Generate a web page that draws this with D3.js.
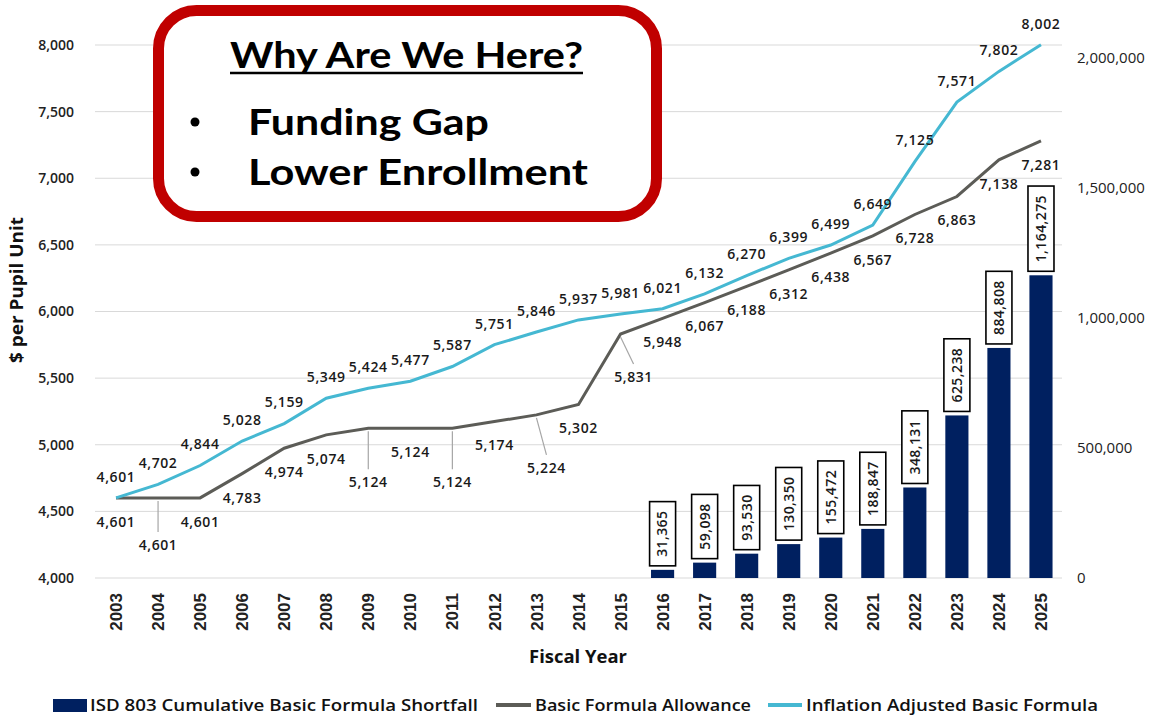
<!DOCTYPE html>
<html>
<head>
<meta charset="utf-8">
<script src="https://cdn.jsdelivr.net/npm/d3@7/dist/d3.min.js"></script>
<style>
body{margin:0;background:#fff;}
svg{display:block;}
.grid line{stroke:#d9d9d9;stroke-width:1;}
.lbl{font-family:"Open Sans",sans-serif;font-weight:600;font-size:14px;fill:#1a1a1a;letter-spacing:0.6px;}
.tick-l{font-family:"Open Sans",sans-serif;font-weight:600;font-size:14px;fill:#222;}
.tick-r{font-family:"Open Sans",sans-serif;font-weight:400;font-size:15px;fill:#222;}
.xlab{font-family:"Liberation Sans",Arial,sans-serif;font-weight:700;font-size:17px;fill:#222;}
.ttl{font-family:"Open Sans",sans-serif;font-weight:700;font-size:17px;fill:#111;}
.leg{font-family:"Open Sans",sans-serif;font-weight:600;font-size:16px;fill:#111;}
.box{font-family:Lato,"Open Sans",sans-serif;font-weight:700;fill:#000;}
</style>
</head>
<body>
<svg id="chart" width="1151" height="721"></svg>
<script>
// fiscal years
var years = [2003,2004,2005,2006,2007,2008,2009,2010,2011,2012,2013,2014,2015,2016,2017,2018,2019,2020,2021,2022,2023,2024,2025];

// Basic Formula Allowance ($ per pupil unit)
var allowance = [4601,4601,4601,4783,4974,5074,5124,5124,5124,5174,5224,5302,5831,5948,6067,6188,6312,6438,6567,6728,6863,7138,7281];

// Inflation Adjusted Basic Formula
var inflation = [4601,4702,4844,5028,5159,5349,5424,5477,5587,5751,5846,5937,5981,6021,6132,6270,6399,6499,6649,7125,7571,7802,8002];

// ISD 803 cumulative shortfall (only from 2016)
var shortfallYears = [2016,2017,2018,2019,2020,2021,2022,2023,2024,2025];
var shortfall = [31365,59098,93530,130350,155472,188847,348131,625238,884808,1164275];

var leftTicks = [4000,4500,5000,5500,6000,6500,7000,7500,8000];
var rightTicks = [0,500000,1000000,1500000,2000000];

// gray labels that sit further down with a leader line  [dx, dy]
var grayNudge = {2004:[0,47], 2009:[0,54], 2011:[0,54], 2013:[10,53], 2015:[13,43]};

var navy = "#002060", gray = "#5c5c57", cyan = "#45b8d2";

var svg = d3.select("#chart");
var fmt = d3.format(",");

var x = d3.scaleBand().domain(years).range([95,1062]).paddingInner(0.45).paddingOuter(0.225);
var cx = function(d){ return x(d) + x.bandwidth()/2; };
var yL = d3.scaleLinear().domain([4000,8000]).range([578,45]);
var yR = d3.scaleLinear().domain([0,2050000]).range([578,45]);

// grid
svg.append("g").attr("class","grid")
  .selectAll("line").data(leftTicks).enter().append("line")
  .attr("x1",95).attr("x2",1062)
  .attr("y1",function(d){return yL(d);}).attr("y2",function(d){return yL(d);});

// left axis labels
svg.append("g").selectAll("text").data(leftTicks).enter().append("text")
  .attr("class","tick-l").attr("x",74).attr("y",function(d){return yL(d);})
  .attr("dy","0.35em").attr("text-anchor","end").text(fmt);

// right axis labels
svg.append("g").selectAll("text").data(rightTicks).enter().append("text")
  .attr("class","tick-r").attr("x",1077).attr("y",function(d){return yR(d);})
  .attr("dy","0.35em").attr("text-anchor","start").text(fmt);

// bars
var barData = shortfallYears.map(function(y,i){ return {year:y, v:shortfall[i]}; });
svg.append("g").selectAll("rect").data(barData).enter().append("rect")
  .attr("x",function(d){return x(d.year);})
  .attr("width",x.bandwidth())
  .attr("y",function(d){return yR(d.v);})
  .attr("height",function(d){return yR(0)-yR(d.v);})
  .attr("fill",navy);

// bar labels in boxes
var bl = svg.append("g").selectAll("g").data(barData).enter().append("g")
  .attr("transform",function(d){return "translate("+cx(d.year)+","+(yR(d.v)-4)+") rotate(-90)";});
bl.append("rect").attr("class","bx");
bl.append("text").attr("class","lbl").attr("x",9).attr("y",0).attr("dy","0.35em")
  .style("letter-spacing","0.4px").text(function(d){return fmt(d.v);});
bl.each(function(){
  var g = d3.select(this);
  var w = g.select("text").node().getComputedTextLength();
  g.select("rect").attr("x",0).attr("y",-13).attr("width",w+18).attr("height",26)
    .attr("fill","#fff").attr("stroke","#000").attr("stroke-width",1.6);
});

// lines
var line = function(vals){
  return d3.line().x(function(d,i){return cx(years[i]);}).y(function(d){return yL(d);})(vals);
};
svg.append("path").attr("d",line(allowance)).attr("fill","none").attr("stroke",gray).attr("stroke-width",3);
svg.append("path").attr("d",line(inflation)).attr("fill","none").attr("stroke",cyan).attr("stroke-width",3);

// cyan labels above
svg.append("g").selectAll("text").data(inflation).enter().append("text")
  .attr("class","lbl").attr("text-anchor","middle")
  .attr("x",function(d,i){return cx(years[i]);})
  .attr("y",function(d){return yL(d)-21;}).attr("dy","0.35em").text(fmt);

// gray labels below (with leader lines where pushed down)
var gl = svg.append("g");
allowance.forEach(function(v,i){
  var yr = years[i], px = cx(yr), py = yL(v);
  var n = grayNudge[yr] || [0,24];
  var lx = px + n[0], ly = py + n[1];
  if (grayNudge[yr]) {
    gl.append("line").attr("x1",px).attr("y1",py+3).attr("x2",lx).attr("y2",ly-13)
      .attr("stroke","#a6a6a6").attr("stroke-width",1.2);
  }
  gl.append("text").attr("class","lbl").attr("text-anchor","middle")
    .attr("x",lx).attr("y",ly).attr("dy","0.35em").text(fmt(v));
});

// x axis labels
svg.append("g").selectAll("text").data(years).enter().append("text")
  .attr("class","xlab")
  .attr("transform",function(d){return "translate("+cx(d)+",593) rotate(-90)";})
  .attr("text-anchor","end").attr("dy","0.36em").text(function(d){return d;});

// axis titles
svg.append("text").attr("class","ttl").attr("x",578).attr("y",657).attr("dy","0.35em")
  .attr("text-anchor","middle").attr("textLength",98).attr("lengthAdjust","spacingAndGlyphs").text("Fiscal Year");
svg.append("text").attr("class","ttl").attr("transform","translate(17,290) rotate(-90)")
  .attr("dy","0.35em").attr("text-anchor","middle")
  .attr("textLength",146).attr("lengthAdjust","spacingAndGlyphs").text("$ per Pupil Unit");

// legend
var leg = svg.append("g");
leg.append("rect").attr("x",53).attr("y",699).attr("width",34).attr("height",13).attr("fill",navy);
leg.append("text").attr("class","leg").attr("x",90).attr("y",705).attr("dy","0.35em")
  .attr("textLength",388).attr("lengthAdjust","spacingAndGlyphs").text("ISD 803 Cumulative Basic Formula Shortfall");
leg.append("line").attr("x1",496).attr("x2",531).attr("y1",705).attr("y2",705).attr("stroke",gray).attr("stroke-width",4);
leg.append("text").attr("class","leg").attr("x",535).attr("y",705).attr("dy","0.35em")
  .attr("textLength",216).attr("lengthAdjust","spacingAndGlyphs").text("Basic Formula Allowance");
leg.append("line").attr("x1",768).attr("x2",802).attr("y1",705).attr("y2",705).attr("stroke",cyan).attr("stroke-width",4);
leg.append("text").attr("class","leg").attr("x",806).attr("y",705).attr("dy","0.35em")
  .attr("textLength",292).attr("lengthAdjust","spacingAndGlyphs").text("Inflation Adjusted Basic Formula");

// callout box
var cb = svg.append("g");
cb.append("rect").attr("x",158.5).attr("y",10.5).attr("width",498).attr("height",206).attr("rx",38)
  .attr("fill","#fff").attr("stroke","#c00000").attr("stroke-width",11);
cb.append("text").attr("class","box").attr("x",230).attr("y",68).style("font-size","36px")
  .attr("textLength",353).attr("lengthAdjust","spacingAndGlyphs").text("Why Are We Here?");
cb.append("line").attr("x1",230).attr("x2",583).attr("y1",73).attr("y2",73).attr("stroke","#000").attr("stroke-width",2.5);
cb.append("circle").attr("cx",195).attr("cy",122).attr("r",4.5).attr("fill","#000");
cb.append("circle").attr("cx",195).attr("cy",172).attr("r",4.5).attr("fill","#000");
cb.append("text").attr("class","box").attr("x",248).attr("y",135).style("font-size","36px")
  .attr("textLength",241).attr("lengthAdjust","spacingAndGlyphs").text("Funding Gap");
cb.append("text").attr("class","box").attr("x",248).attr("y",185).style("font-size","36px")
  .attr("textLength",340).attr("lengthAdjust","spacingAndGlyphs").text("Lower Enrollment");
</script>
</body>
</html>
